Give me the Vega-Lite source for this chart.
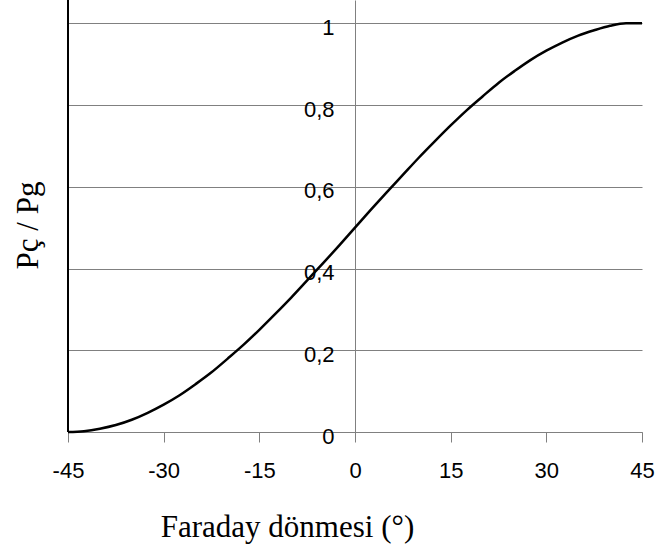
{
  "$schema": "https://vega.github.io/schema/vega-lite/v6.json",
  "width": 574,
  "height": 432,
  "autosize": {"type": "none"},
  "padding": {"left": 68, "top": 0, "right": 19, "bottom": 118},
  "background": "white",
  "config": {"view": {"stroke": null}},
  "layer": [
    {
      "data": {"values": [
        {"theta": -45, "ratio": 0.0},
        {"theta": -42.5, "ratio": 0.002},
        {"theta": -40, "ratio": 0.008},
        {"theta": -37.5, "ratio": 0.017},
        {"theta": -35, "ratio": 0.030},
        {"theta": -32.5, "ratio": 0.047},
        {"theta": -30, "ratio": 0.067},
        {"theta": -27.5, "ratio": 0.090},
        {"theta": -25, "ratio": 0.117},
        {"theta": -22.5, "ratio": 0.146},
        {"theta": -20, "ratio": 0.179},
        {"theta": -17.5, "ratio": 0.213},
        {"theta": -15, "ratio": 0.250},
        {"theta": -12.5, "ratio": 0.289},
        {"theta": -10, "ratio": 0.329},
        {"theta": -7.5, "ratio": 0.371},
        {"theta": -5, "ratio": 0.413},
        {"theta": -2.5, "ratio": 0.456},
        {"theta": 0, "ratio": 0.500},
        {"theta": 2.5, "ratio": 0.544},
        {"theta": 5, "ratio": 0.587},
        {"theta": 7.5, "ratio": 0.629},
        {"theta": 10, "ratio": 0.671},
        {"theta": 12.5, "ratio": 0.711},
        {"theta": 15, "ratio": 0.750},
        {"theta": 17.5, "ratio": 0.787},
        {"theta": 20, "ratio": 0.821},
        {"theta": 22.5, "ratio": 0.854},
        {"theta": 25, "ratio": 0.883},
        {"theta": 27.5, "ratio": 0.910},
        {"theta": 30, "ratio": 0.933},
        {"theta": 32.5, "ratio": 0.953},
        {"theta": 35, "ratio": 0.970},
        {"theta": 37.5, "ratio": 0.983},
        {"theta": 40, "ratio": 0.994},
        {"theta": 42.5, "ratio": 1.0},
        {"theta": 45, "ratio": 1.0}
      ]},
      "mark": {"type": "line", "color": "black", "strokeWidth": 2.5, "interpolate": "monotone"},
      "encoding": {
        "x": {
          "field": "theta", "type": "quantitative",
          "scale": {"domain": [-45, 45], "nice": false, "zero": false},
          "axis": {
            "values": [-45, -30, -15, 0, 15, 30, 45],
            "grid": false,
            "tickSize": 10,
            "tickColor": "#808080",
            "domainColor": "#808080",
            "labelFont": "Liberation Sans",
            "labelFontSize": 22,
            "labelColor": "black",
            "labelPadding": 18,
            "labelBaseline": "top",
            "labelFlush": false,
            "labelExpr": "toString(datum.value)",
            "title": "Faraday dönmesi (°)",
            "titleFont": "Liberation Serif",
            "titleFontSize": 31,
            "titleFontWeight": "normal",
            "titleColor": "black",
            "titleX": 219,
            "titleY": 104,
            "titleAlign": "center",
            "titleBaseline": "alphabetic"
          }
        },
        "y": {
          "field": "ratio", "type": "quantitative",
          "scale": {"domain": [0, 1.057], "nice": false},
          "axis": {
            "values": [0, 0.2, 0.4, 0.6, 0.8, 1],
            "offset": -287,
            "ticks": false,
            "grid": true,
            "gridColor": "#808080",
            "gridWidth": 1,
            "gridOpacity": 1,
            "domainColor": "#808080",
            "labelFont": "Liberation Sans",
            "labelFontSize": 22,
            "labelColor": "black",
            "labelPadding": 21,
            "labelBaseline": "middle",
            "labelFlush": false,
            "labelOffset": 4,
            "labelExpr": "replace(format(datum.value, '~g'), '.', ',')",
            "title": "Pç / Pg",
            "titleFont": "Liberation Serif",
            "titleFontSize": 31,
            "titleFontWeight": "normal",
            "titleColor": "black",
            "titleX": -327,
            "titleY": 225,
            "titleAngle": -90,
            "titleAlign": "center",
            "titleBaseline": "middle"
          }
        }
      }
    },
    {
      "data": {"values": [{"edge": -45}]},
      "mark": {"type": "rule", "color": "black", "strokeWidth": 2},
      "encoding": {
        "x": {"field": "edge", "type": "quantitative"}
      }
    }
  ]
}
